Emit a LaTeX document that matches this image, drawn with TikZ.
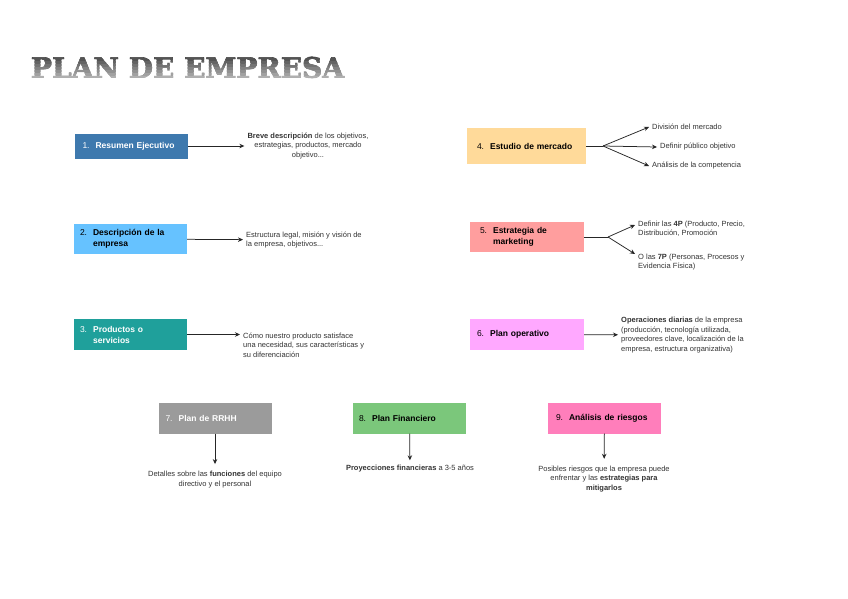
\documentclass[tikz,border=0pt]{standalone}
\usepackage{fontspec}
\setmainfont{Liberation Sans}
\newfontfamily\titlefont[FakeBold=2]{DejaVu Serif}
\usetikzlibrary{positioning, calc, arrows.meta}

\definecolor{azulres}{HTML}{3E79AE}
\definecolor{celeste}{HTML}{66C2FF}
\definecolor{turquesa}{HTML}{1FA09B}
\definecolor{arena}{HTML}{FFDA9A}
\definecolor{salmon}{HTML}{FF9E9E}
\definecolor{lila}{HTML}{FFA8FF}
\definecolor{gris}{HTML}{9B9B9B}
\definecolor{verde}{HTML}{7BC77B}
\definecolor{rosa}{HTML}{FF7EBB}

\tikzset{
    planbox/.style={rectangle, minimum height=30pt, text width=99pt, inner xsep=7pt, inner ysep=0pt, align=left, font=\fontsize{8.5}{11}\selectfont},
    nota/.style={font=\fontsize{7.5}{9.5}\selectfont, text=black!80, inner sep=3pt},
    flecha/.style={-{Stealth[length=5pt, width=4.5pt]}, draw=black!85, line width=0.75pt},
    rama/.style={draw=black!85, line width=0.75pt},
    titulo/.style={inner sep=0pt, font=\titlefont\bfseries\fontsize{28}{28}\selectfont}
}

\begin{document}
\begin{tikzpicture}[x=1pt, y=-1pt]
    \fill[white] (0,0) rectangle (848,599);
    \useasboundingbox (0,0) rectangle (848,599);
    \foreach \i in {0,...,11} {
        \pgfmathsetmacro\tono{85-\i*6}
        \begin{scope}
            \clip (20,{50+3*\i}) rectangle (360,{53.4+3*\i});
            \node[titulo, text=black!\tono] (t\i) at (187.5,67.5) {PLAN DE EMPRESA};
        \end{scope}
    }

    % left column
    \node[planbox, fill=azulres, text=white, minimum height=25pt, inner xsep=8pt, text width=97pt] (b1) at (131,146) {1.\hspace{6pt}\textbf{Resumen Ejecutivo}};
    \node[planbox, fill=celeste, inner xsep=6pt, text width=101pt] (b2) at (130.5,239) {2.\hspace{6pt}\textbf{Descripción de la}\\\phantom{2.}\hspace{6pt}\textbf{empresa}};
    \node[planbox, fill=turquesa, text=white, minimum height=31pt, inner xsep=6pt, text width=101pt] (b3) at (130.5,334.5) {3.\hspace{6pt}\textbf{Productos o}\\\phantom{3.}\hspace{6pt}\textbf{servicios}};

    \node[nota, align=center] (d1) at (308,146) {\textbf{Breve descripción} de los objetivos,\\estrategias, productos, mercado\\objetivo...};
    \node[nota, align=left, anchor=west] (d2) at (243,240) {Estructura legal, misión y visión de\\la empresa, objetivos...};
    \node[nota, align=left, anchor=west] (d3) at (240,345) {Cómo nuestro producto satisface\\una necesidad, sus características y\\su diferenciación};

    \draw[flecha] (b1) -- (d1);
    \draw[flecha] (b2) -- (d2);
    \draw[flecha] (b3.east) -- (b3.east -| d3.west);

    % right column
    \node[planbox, fill=arena, minimum height=36pt, inner xsep=10pt] (b4) at (526.5,146) {4.\hspace{6pt}\textbf{Estudio de mercado}};
    \node[planbox, fill=salmon, inner xsep=10pt, text width=94pt] (b5) at (527,237) {5.\hspace{6pt}\textbf{Estrategia de}\\\phantom{5.}\hspace{6pt}\textbf{marketing}};
    \node[planbox, fill=lila, minimum height=31pt, text width=100pt] (b6) at (527,334.5) {6.\hspace{6pt}\textbf{Plan operativo}};

    \node[nota, anchor=west] (d4a) at (649,127) {División del mercado};
    \node[nota, anchor=west] (d4b) at (657,147) {Definir público objetivo};
    \node[nota, anchor=west] (d4c) at (649,166) {Análisis de la competencia};
    \node[nota, align=left, anchor=west] (d5a) at (635,229) {Definir las \textbf{4P} (Producto, Precio,\\Distribución, Promoción};
    \node[nota, align=left, anchor=west] (d5b) at (635,262) {O las \textbf{7P} (Personas, Procesos y\\Evidencia Física)};
    \node[nota, align=left, anchor=west] (d6) at (618,335) {\textbf{Operaciones diarias} de la empresa\\(producción, tecnología utilizada,\\proveedores clave, localización de la\\empresa, estructura organizativa)};

    \coordinate (f4) at (603,146);
    \coordinate (f5) at (608,237);
    \draw[rama] (b4.east) -- (f4);
    \draw[flecha] (f4) -- (d4a.west);
    \draw[flecha] (f4) -- (d4b.west);
    \draw[flecha] (f4) -- (d4c.west);
    \draw[rama] (b5.east) -- (f5);
    \draw[flecha] (f5) -- ([yshift=4pt]d5a.west);
    \draw[flecha] (f5) -- ([yshift=8pt]d5b.west);
    \draw[flecha] (b6) -- (d6);

    % bottom row
    \node[planbox, fill=gris, text=white, minimum height=31pt] (b7) at (215,418) {7.\hspace{6pt}\textbf{Plan de RRHH}};
    \node[planbox, fill=verde, minimum height=31pt, inner xsep=6pt, text width=101pt] (b8) at (409.5,418) {8.\hspace{6pt}\textbf{Plan Financiero}};
    \node[planbox, fill=rosa, minimum height=31pt, inner xsep=8pt, text width=97pt] (b9) at (604.5,418) {9.\hspace{6pt}\textbf{Análisis de riesgos}};

    \node[nota, align=center] (d7) at (215,479.5) {Detalles sobre las \textbf{funciones} del equipo\\directivo y el personal};
    \node[nota, align=center] (d8) at (410,469) {\textbf{Proyecciones financieras} a 3-5 años};
    \node[nota, align=center] (d9) at (604,479) {Posibles riesgos que la empresa puede\\enfrentar y las \textbf{estrategias para}\\\textbf{mitigarlos}};

    \draw[flecha, shorten >=4pt] (b7) -- (d7);
    \draw[flecha, shorten >=2pt] (b8) -- (d8);
    \draw[flecha, shorten >=4pt] (b9) -- (d9);
\end{tikzpicture}
\end{document}
